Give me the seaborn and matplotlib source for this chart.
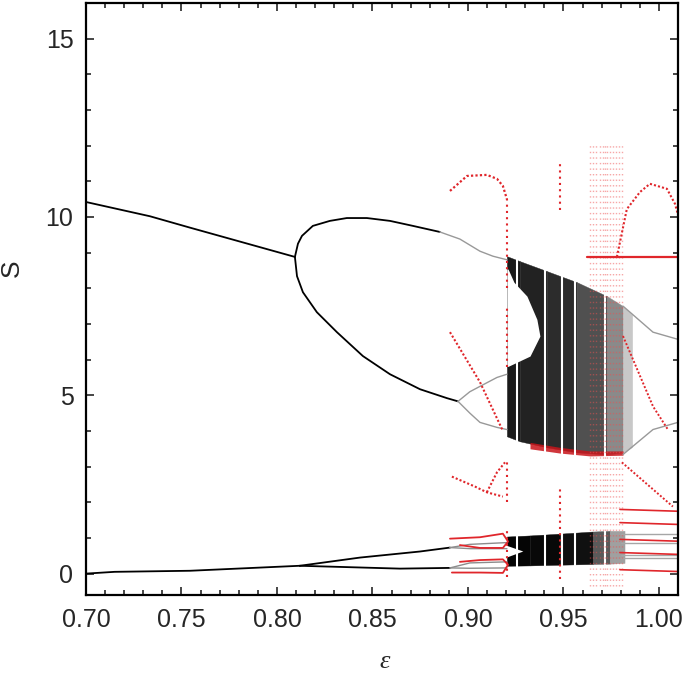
import matplotlib
matplotlib.use('Agg')
import matplotlib.pyplot as plt
from matplotlib.ticker import MultipleLocator
import seaborn as sns

# ---- black / grey branches (eps, S) ----
p1_eps = [0.700, 0.7335, 0.7545, 0.8094]
p1_s = [10.42, 10.02, 9.70, 8.88]

p2_up_eps = [0.8094, 0.8110, 0.8131, 0.8188, 0.8277, 0.8366, 0.8471, 0.8592, 0.8712, 0.8853]
p2_up_s = [8.88, 9.25, 9.47, 9.75, 9.89, 9.97, 9.97, 9.89, 9.75, 9.58]
p2_up_grey_eps = [0.8853, 0.8958, 0.9063, 0.9131, 0.9204]
p2_up_grey_s = [9.58, 9.38, 9.04, 8.90, 8.80]

p2_lo_eps = [0.8094, 0.8105, 0.8136, 0.8209, 0.8314, 0.8450, 0.8592, 0.8749, 0.8890, 0.8948]
p2_lo_s = [8.88, 8.34, 7.89, 7.33, 6.77, 6.10, 5.59, 5.17, 4.92, 4.83]

p4_eps = [0.8948, 0.9010, 0.9063, 0.9152, 0.9204]
p4_up_s = [4.83, 5.10, 5.25, 5.50, 5.59]
p4_lo_s = [4.83, 4.50, 4.24, 4.10, 4.04]

# grey branches right of the chaotic band
right_eps = [0.9812, 0.9969, 1.0099]
right_up_s = [7.50, 6.77, 6.57]
right_lo_s = [3.34, 4.04, 4.24]
right_low_lines = [1.10, 0.87, 0.53, 0.45]
right_low_eps = [0.9800, 1.0099]

# lowest branches
base_eps = [0.700, 0.7150, 0.7545, 0.8120]
base_s = [0.0, 0.05, 0.08, 0.22]
l1_eps = [0.8120, 0.8435, 0.8749, 0.8906]
l1_s = [0.22, 0.45, 0.62, 0.73]
l2_eps = [0.8120, 0.8644, 0.8906]
l2_s = [0.22, 0.14, 0.16]
grey_low_eps = [0.8906, 0.9010, 0.9204]
grey_low_a = [0.73, 0.82, 0.87]
grey_low_b = [0.73, 0.70, 0.70]
grey_low_c = [0.16, 0.30, 0.33]
grey_low_d = [0.16, 0.15, 0.16]

# chaotic bands
band_eps = [0.9204, 0.9272, 0.9414, 0.9571, 0.9728, 0.9812, 0.9860]
band_top = [8.90, 8.76, 8.48, 8.17, 7.78, 7.50, 7.25]
band_bot = [3.85, 3.71, 3.54, 3.40, 3.34, 3.40, 3.55]
band_shade = ['#1a1a1a', '#222222', '#2c2c2c', '#505050', '#8a8a8a', '#c8c8c8']

hole_s = [8.54, 8.17, 7.78, 7.13, 6.66, 6.10, 5.81]
hole_eps = [0.9210, 0.9241, 0.9309, 0.9361, 0.9377, 0.9325, 0.9210]

low_eps = [0.9204, 0.9325, 0.9482, 0.9655, 0.9743, 0.9820]
low_top = [1.04, 1.07, 1.12, 1.18, 1.20, 1.20]
low_bot = [0.22, 0.23, 0.25, 0.27, 0.28, 0.30]
low_shade = ['#050505', '#080808', '#101010', '#5a5a5a', '#a0a0a0']

notch_eps = [0.9204, 0.9290, 0.9204]
notch_s = [0.78, 0.62, 0.45]

window_eps = [0.9257, 0.9403, 0.9492, 0.9560, 0.9717]

# ---- red set ----
r_arc_eps = [0.8906, 0.8995, 0.9099, 0.9152, 0.9183, 0.9204]
r_arc_s = [10.73, 11.15, 11.18, 11.07, 10.87, 10.50]
r_diag_eps = [0.8906, 0.9063, 0.9183]
r_diag_s = [6.77, 5.37, 4.00]
r_low_eps = [0.8916, 0.9037, 0.9099, 0.9183]
r_low_s = [2.72, 2.44, 2.28, 2.16]
r_low2_eps = [0.9099, 0.9152, 0.9194]
r_low2_s = [2.28, 2.84, 3.12]
r_loop1_eps = [0.8906, 0.9063, 0.9183, 0.9210, 0.9183, 0.9063, 0.8958]
r_loop1_s = [0.98, 1.02, 1.12, 0.90, 0.72, 0.72, 0.80]
r_loop2_eps = [0.8916, 0.9063, 0.9183, 0.9210, 0.9183, 0.9063, 0.8958]
r_loop2_s = [0.03, 0.03, 0.02, 0.25, 0.40, 0.38, 0.33]

r_vert_eps = [0.9204, 0.9204, 0.9204, 0.9204, 0.9482, 0.9482]
r_vert_lo = [8.00, 5.80, 2.00, -0.10, 10.20, -0.15]
r_vert_hi = [10.50, 7.50, 3.20, 1.20, 11.60, 2.40]

r_edge_eps = [0.9325, 0.9482, 0.9639, 0.9812]
r_edge_lo = [3.50, 3.38, 3.30, 3.32]
r_edge_hi = [3.68, 3.54, 3.44, 3.44]

# faint vertical streaks of the red set (chaotic part)
streak_eps = [0.9640, 0.9655, 0.9672, 0.9690, 0.9705, 0.9718, 0.9730,
              0.9745, 0.9760, 0.9775, 0.9790, 0.9805]
streak_lo, streak_hi = -0.35, 12.1

r_hline_eps = [0.9623, 1.0099]
r_hline_s = [8.88, 8.88]
r_arc2_eps = [0.9780, 0.9832, 0.9901, 0.9953, 1.0042, 1.0084, 1.0099]
r_arc2_s = [8.88, 10.22, 10.70, 10.93, 10.79, 10.37, 10.08]
r_diag2_eps = [0.9812, 0.9969, 1.0047]
r_diag2_s = [6.66, 4.69, 4.04]
r_diag3_eps = [0.9806, 1.0073]
r_diag3_s = [3.12, 1.88]
r_right_eps = [0.9796, 1.0094]
r_right_lines = [1.80, 1.43, 0.96, 0.59, 0.11]

RED = '#e0262b'

sns.set_style("ticks")
plt.rcParams['font.family'] = ['Liberation Sans', 'DejaVu Sans']

fig = plt.figure(figsize=(6.85, 6.77), dpi=100)
ax = fig.add_axes([0.1255, 0.1211, 0.8643, 0.8745])


def curve(x, y, color='black', lw=1.3, ls='-'):
    sns.lineplot(x=x, y=y, sort=False, estimator=None, color=color,
                 lw=lw, linestyle=ls, ax=ax)


# chaotic bands as shaded strips
for i in range(len(band_shade)):
    ax.fill_between(band_eps[i:i + 2], band_top[i:i + 2], band_bot[i:i + 2],
                    color=band_shade[i], lw=0.3)
ax.fill_betweenx(hole_s, band_eps[0], hole_eps, color='white', lw=0)
for i in range(len(low_shade)):
    ax.fill_between(low_eps[i:i + 2], low_top[i:i + 2], low_bot[i:i + 2],
                    color=low_shade[i], lw=0.3)
ax.fill(notch_eps, notch_s, color='white', lw=0)

# periodic windows cut through the bands
ax.vlines(window_eps, 3.2, 9.0, color='white', lw=1.5)
ax.vlines(window_eps, 0.1, 1.3, color='white', lw=1.5)

# black and grey branches
curve(p1_eps, p1_s)
curve(p2_up_eps, p2_up_s)
curve(p2_up_grey_eps, p2_up_grey_s, color='0.6', lw=1.0)
curve(p2_lo_eps, p2_lo_s)
curve(p4_eps, p4_up_s, color='0.6', lw=1.0)
curve(p4_eps, p4_lo_s, color='0.6', lw=1.0)
curve(right_eps, right_up_s, color='0.6', lw=1.0)
curve(right_eps, right_lo_s, color='0.6', lw=1.0)
for s in right_low_lines:
    curve(right_low_eps, [s, s], color='0.65', lw=1.0)

curve(base_eps, base_s)
curve(l1_eps, l1_s)
curve(l2_eps, l2_s)
for ys in (grey_low_a, grey_low_b, grey_low_c, grey_low_d):
    curve(grey_low_eps, ys, color='0.55', lw=1.0)

# red set
dots = (0, (1, 2))
ax.vlines(streak_eps, streak_lo, streak_hi, color='#ee5050', alpha=0.5,
          lw=1.0, linestyles=[(0, (1, 3))])
ax.fill_between(r_edge_eps, r_edge_lo, r_edge_hi, color='#c8141a', alpha=0.85, lw=0)

curve(r_arc_eps, r_arc_s, color=RED, lw=1.6, ls=(0, (1, 1)))
curve(r_diag_eps, r_diag_s, color=RED, lw=1.5, ls=(0, (1, 1)))
curve(r_low_eps, r_low_s, color=RED, lw=1.5, ls=(0, (1, 1)))
curve(r_low2_eps, r_low2_s, color=RED, lw=1.5, ls=(0, (1, 1)))
curve(r_loop1_eps, r_loop1_s, color=RED, lw=1.3)
curve(r_loop2_eps, r_loop2_s, color=RED, lw=1.3)
ax.vlines(r_vert_eps, r_vert_lo, r_vert_hi, color=RED, lw=1.5, linestyles=[dots])
curve(r_hline_eps, r_hline_s, color=RED, lw=1.6)
curve(r_arc2_eps, r_arc2_s, color=RED, lw=1.5, ls=(0, (1, 1)))
curve(r_diag2_eps, r_diag2_s, color=RED, lw=1.4, ls=(0, (1, 1)))
curve(r_diag3_eps, r_diag3_s, color=RED, lw=1.4, ls=(0, (1, 1)))
for s in r_right_lines:
    curve(r_right_eps, [s, s - 0.05], color=RED, lw=1.2)

# axes styling
ax.set_xlim(0.70, 1.01)
ax.set_ylim(-0.6, 16.0)
ax.xaxis.set_major_locator(MultipleLocator(0.05))
ax.xaxis.set_minor_locator(MultipleLocator(0.01))
ax.yaxis.set_major_locator(MultipleLocator(5))
ax.yaxis.set_minor_locator(MultipleLocator(1))
ax.xaxis.set_major_formatter(matplotlib.ticker.FormatStrFormatter('%.2f'))
ax.tick_params(which='both', direction='in', top=True, right=True, width=1.2)
ax.tick_params(which='major', length=6, labelsize=18)
ax.tick_params(which='minor', length=3.5)
ax.tick_params(axis='x', pad=9)
ax.tick_params(axis='y', pad=9)
for sp in ax.spines.values():
    sp.set_linewidth(1.6)
    sp.set_color('black')

ax.set_xlabel('ε', fontsize=19, family=['Liberation Serif', 'DejaVu Serif'],
              style='italic')
ax.set_ylabel('S', fontsize=19)
ax.xaxis.set_label_coords(0.505, -0.095)
ax.yaxis.set_label_coords(-0.105, 0.552)

fig.savefig('out.png', dpi=100)
